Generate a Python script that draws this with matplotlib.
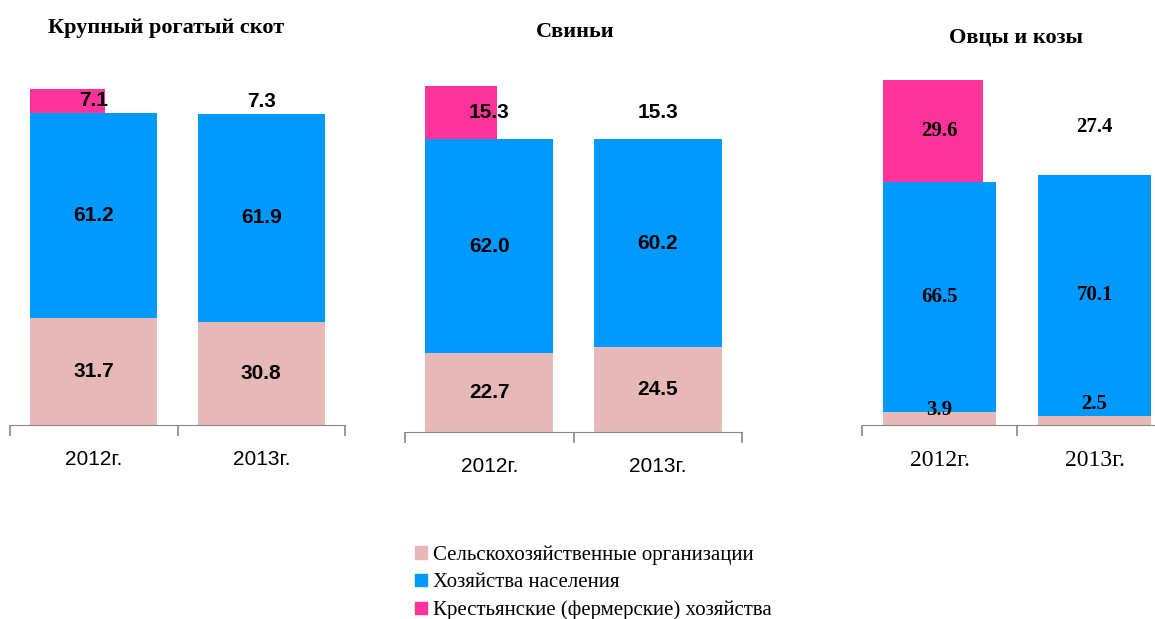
import matplotlib
matplotlib.use("Agg")
import matplotlib.pyplot as plt
from matplotlib.patches import Patch

# data
years = ["2012г.", "2013г."]
titles = ["Крупный рогатый скот", "Свиньи", "Овцы и козы"]
agri_org = [[31.7, 30.8], [22.7, 24.5], [3.9, 2.5]]
households = [[61.2, 61.9], [62.0, 60.2], [66.5, 70.1]]
farms = [[7.1, 7.3], [15.3, 15.3], [29.6, 27.4]]
legend_labels = ["Сельскохозяйственные организации",
                 "Хозяйства населения",
                 "Крестьянские (фермерские) хозяйства"]

c_org = "#E6B9B8"
c_hh = "#0099FF"
c_farm = "#FF3399"

W, H = 1155, 619
fig = plt.figure(figsize=(W / 100, H / 100), dpi=100)

# pixel boxes: left, right, bottom (y=0), top (y=100)
boxes = [(10, 345, 425, 89), (405, 742, 432, 86), (862, 1172, 425, 80)]
bar_w = [0.76, 0.76, 0.735]
pink_frac = [0.59, 0.56, 0.88]
fonts = ["Liberation Sans", "Liberation Sans", "Liberation Serif"]
tick_size = [15, 15, 17]
title_pos = [(166, 28), (575, 32), (1016, 38)]
# small bottom labels sit a bit above the thin segment
small_y = [[None, None], [None, None], [4.3, 6.1]]

for i in range(3):
    l, r, b, t = boxes[i]
    ax = fig.add_axes([l / W, (H - b) / H, (r - l) / W, (b - t) / H])
    x = [0, 1]
    w = bar_w[i]
    ax.bar(x, agri_org[i], w, color=c_org)
    ax.bar(x, households[i], w, bottom=agri_org[i], color=c_hh)
    base = [a + h for a, h in zip(agri_org[i], households[i])]
    # 2012 farm segment is narrower and left aligned, 2013 is blank
    pw = w * pink_frac[i]
    ax.bar(-w / 2, farms[i][0], pw, bottom=base[0], color=c_farm, align="edge")

    fam = fonts[i]
    for j in range(2):
        y0 = small_y[i][j] if small_y[i][j] is not None else agri_org[i][j] / 2
        ax.text(j, y0, f"{agri_org[i][j]:.1f}", ha="center", va="center",
                fontsize=15, fontweight="bold", family=fam)
        ax.text(j, agri_org[i][j] + households[i][j] / 2, f"{households[i][j]:.1f}",
                ha="center", va="center", fontsize=15, fontweight="bold", family=fam)
        ax.text(j, base[j] + farms[i][j] / 2, f"{farms[i][j]:.1f}",
                ha="center", va="center", fontsize=15, fontweight="bold", family=fam)

    ax.set_xlim(-0.5, 1.5)
    ax.set_ylim(0, 100)
    for s in ["left", "right", "top"]:
        ax.spines[s].set_visible(False)
    ax.spines["bottom"].set_color("#888888")
    ax.set_yticks([])
    ax.set_xticks(x)
    ax.set_xticklabels(years, fontsize=tick_size[i], family=fam)
    ax.tick_params(axis="x", which="major", length=0, pad=18)
    ax.set_xticks([-0.5, 0.5, 1.5], minor=True)
    ax.tick_params(axis="x", which="minor", length=8, color="#888888", width=1.2)

    tx, ty = title_pos[i]
    fig.text(tx / W, 1 - ty / H, titles[i], ha="center", va="center",
             fontsize=16, fontweight="bold", family="Liberation Serif")

handles = [Patch(color=c) for c in [c_org, c_hh, c_farm]]
fig.legend(handles, legend_labels, loc="upper left", bbox_to_anchor=(405 / W, 1 - 535 / H),
           frameon=False, handlelength=0.55, handleheight=0.55, handletextpad=0.3,
           labelspacing=0.4, borderpad=0, prop={"family": "Liberation Serif", "size": 15})

fig.savefig("out.png", dpi=100)
